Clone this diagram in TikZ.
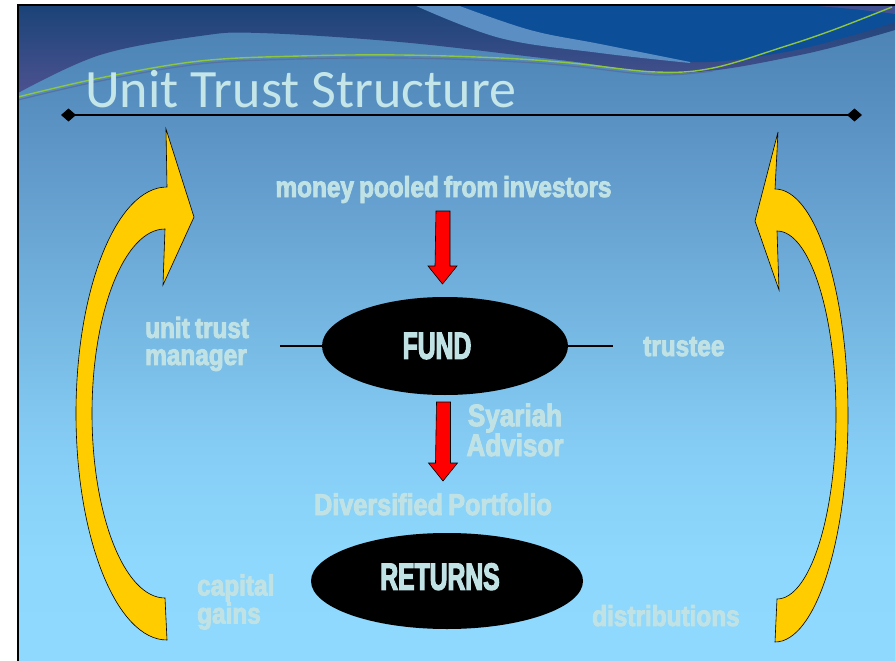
\documentclass[tikz,border=0pt]{standalone}
\usepackage{fontspec}
\usetikzlibrary{shapes.geometric,arrows.meta}

\newfontfamily\titlefont{Carlito}
\newfontfamily\labelfont[FakeStretch=0.84,FakeBold=3,WordSpace=0.75]{Liberation Sans}
\newfontfamily\ovalfont[FakeStretch=0.65,FakeBold=3]{Liberation Sans}

\definecolor{labelcyan}{HTML}{C0E2E5}
\definecolor{titlecyan}{HTML}{C4E6E8}
\definecolor{bannertop}{HTML}{1A4378}
\definecolor{bannerlow}{HTML}{4C5290}
\definecolor{navyband}{HTML}{0C4E97}
\definecolor{streakblue}{HTML}{5B8FC4}
\definecolor{wavegreen}{HTML}{8DC641}
\definecolor{waveshadow}{HTML}{5672A0}
\definecolor{arrowgold}{HTML}{FFCC00}
\definecolor{skyA}{HTML}{4A80B2}
\definecolor{skyB}{HTML}{5B93C5}
\definecolor{skyC}{HTML}{6BA7D5}
\definecolor{skyD}{HTML}{78BCE6}
\definecolor{skyE}{HTML}{86CDF5}
\definecolor{skyF}{HTML}{8DD8FC}
\definecolor{skyG}{HTML}{8ED9FD}

\pgfdeclareverticalshading{slidesky}{100bp}{color(0bp)=(skyG); color(25bp)=(skyG);
	color(32.7bp)=(skyF); color(41.1bp)=(skyE); color(48.7bp)=(skyD);
	color(57.1bp)=(skyC); color(65.5bp)=(skyB); color(75bp)=(skyA); color(100bp)=(skyA)}

\newcommand{\redarrow}[3]{%
	\draw[redblock] (#1,#2) ++(-7,0) -- ++(14,0) -- ++(0,-#3) -- ++(7,0)
		-- ++(-14.5,-18) -- ++(-14.5,18) -- ++(7,0) -- cycle;}

\begin{document}
\begin{tikzpicture}[
		x=1pt, y=1pt
		,lbl/.style={inner sep=0pt, text=labelcyan, align=left,
			font=\labelfont\bfseries\fontsize{29pt}{27pt}\selectfont}
		,oval/.style={ellipse, fill=black, inner sep=0pt, text=labelcyan,
			font=\ovalfont\bfseries\fontsize{38pt}{40pt}\selectfont}
		,bendarrow/.style={fill=arrowgold, draw=black, line width=0.6pt}
		,redblock/.style={fill=red, draw=black, line width=0.6pt}
		,tie/.style={line width=2pt}
	]
	\useasboundingbox (0,0) rectangle (895,-661);
	\fill[white] (0,0) rectangle (895,-661);
	\shade[shading=slidesky] (18,-5) rectangle (895,-661);

	\shade[top color=bannertop, bottom color=bannerlow] (18,-5)
		-- plot[smooth, tension=0.6] coordinates {(18,-93) (100,-55) (200,-36) (260,-33)
			(400,-42) (560,-60) (680,-73) (800,-55) (895,-30)}
		-- (895,-5) -- cycle;
	\fill[navyband] plot[smooth, tension=0.6] coordinates {(457,-5) (530,-30) (600,-44)
			(690,-62) (780,-53) (850,-36) (895,-22)}
		-- (895,-5) -- cycle;
	\fill[bannerlow!85!navyband] (800,-5) .. controls (850,-8) and (880,-12) .. (895,-14) -- (895,-5) -- cycle;
	\fill[streakblue] plot[smooth, tension=0.6] coordinates {(414,-5) (500,-38) (600,-53) (690,-63)}
		-- plot[smooth, tension=0.6] coordinates {(690,-62) (600,-44) (530,-30) (457,-5)} -- cycle;
	\draw[waveshadow, line width=1.2pt] plot[smooth, tension=0.6] coordinates {(18,-100)
			(100,-81) (200,-64) (300,-59) (400,-58) (500,-61) (571,-66) (656,-75) (713,-71)};
	\draw[wavegreen, line width=1.4pt] plot[smooth, tension=0.6] coordinates {(18,-97)
			(100,-78) (200,-61) (300,-56) (400,-55) (500,-58) (571,-63) (656,-72) (713,-68)
			(783,-47) (833,-30) (892,-7)};
	\draw[line width=2pt] (18,-661) -- (18,-5) -- (895,-5);

	\node[anchor=base west, inner sep=0pt, text=titlecyan,
		font=\titlefont\fontsize{54pt}{60pt}\selectfont] (title) at (85,-107) {Unit Trust Structure};
	\coordinate (ruleL) at (61,-115);
	\coordinate (ruleR) at (862,-115);
	\draw[line width=1.8pt, {Diamond[length=15pt,width=13pt]}-{Diamond[length=15pt,width=13pt]}]
		(ruleL) -- (ruleR);

	\draw[bendarrow] (167,-640) arc[start angle=270, end angle=90, x radius=91, y radius=226.5]
		-- (166,-129) -- (194,-217) -- (163,-285) -- (165,-229)
		arc[start angle=90, end angle=270, x radius=73, y radius=184.5] -- cycle;
	\draw[bendarrow] (775,-642) arc[start angle=-90, end angle=90, x radius=73, y radius=226.5]
		-- (778,-132) -- (755,-221) -- (779,-290) -- (777,-231)
		arc[start angle=90, end angle=-90, x radius=59, y radius=184] -- cycle;

	\node[lbl, anchor=base] (money) at (443.5,-197) {money pooled from investors};
	\node[oval, minimum width=246pt, minimum height=98pt] (fund) at (445,-346) {FUND\kern16pt};
	\node[lbl, anchor=west] (manager) at (145,-344) {unit trust\\manager};
	\node[lbl, anchor=base west] (trustee) at (643,-356) {trustee};
	\node[lbl, align=center, font=\labelfont\bfseries\fontsize{31pt}{28pt}\selectfont]
		(syariah) at (515,-430) {Syariah\\Advisor};
	\node[lbl, anchor=base, font=\labelfont\bfseries\fontsize{30pt}{28pt}\selectfont]
		(portfolio) at (433,-515) {Diversified Portfolio};
	\node[oval, minimum width=272pt, minimum height=96pt, text depth=9pt]
		(returns) at (447,-581) {RETURNS\kern14pt};
	\node[lbl, anchor=west] (gains) at (197,-602) {capital\\gains};
	\node[lbl, anchor=base west] (distrib) at (592,-626) {distributions};

	\redarrow{443}{-211}{55}
	\redarrow{443.5}{-402}{61}

	\coordinate (mgrend) at (280,-346);
	\coordinate (trend) at (613,-346);
	\draw[tie] (mgrend) -- (fund.west);
	\draw[tie] (fund.east) -- (trend);
\end{tikzpicture}
\end{document}
